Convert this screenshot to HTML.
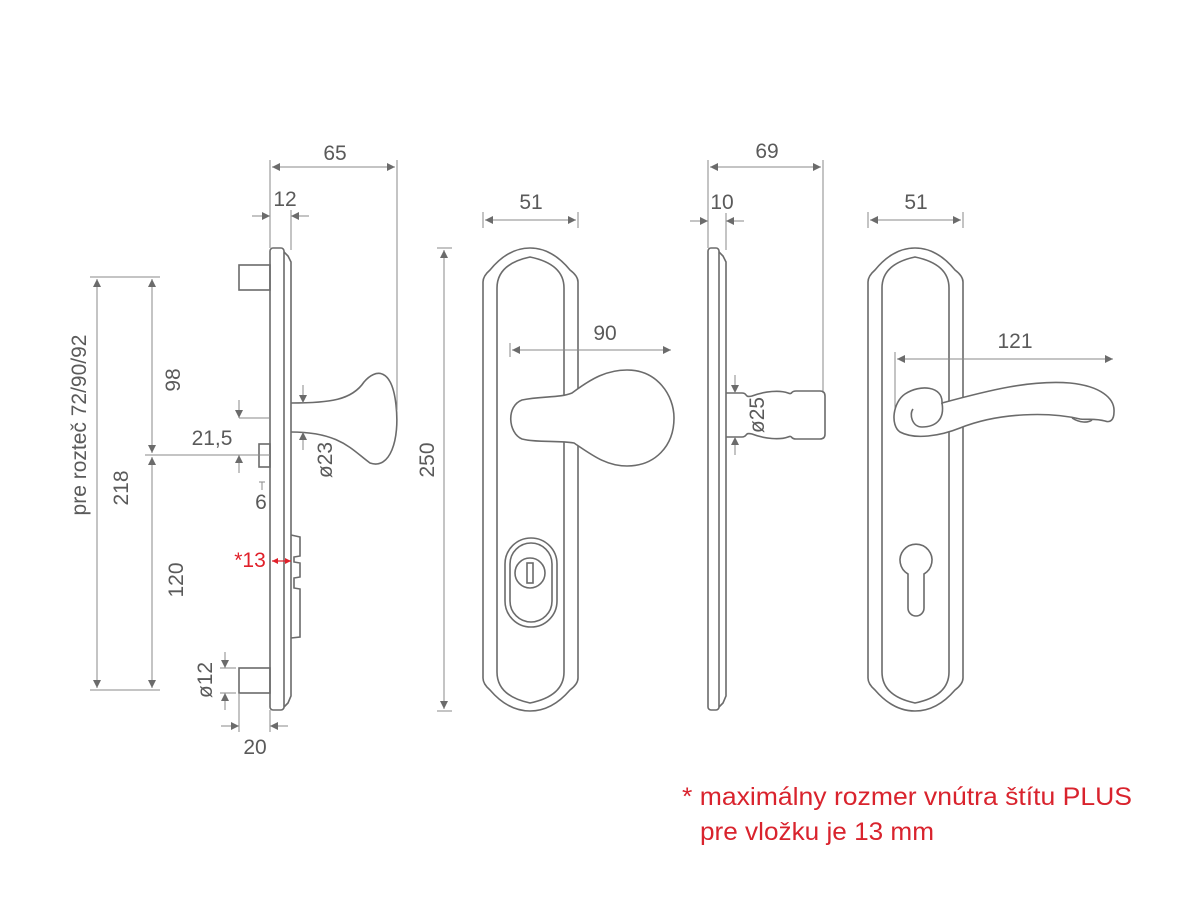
<!DOCTYPE html>
<html><head><meta charset="utf-8"><style>
html,body{margin:0;padding:0;background:#fff;}
svg{display:block;font-family:"Liberation Sans",sans-serif;}
.o{fill:none;stroke:#6b6b6b;stroke-width:1.6;}
.d{fill:none;stroke:#8a8a8a;stroke-width:1;}
.t{fill:#5a5a5a;font-size:21px;}
</style></head><body>
<svg width="1200" height="900" viewBox="0 0 1200 900" xmlns="http://www.w3.org/2000/svg">
<defs>
<marker id="ar" viewBox="0 0 10 10" refX="10" refY="5" markerWidth="16" markerHeight="8" markerUnits="userSpaceOnUse" orient="auto-start-reverse"><path d="M0,0 L10,5 L0,10 Z" fill="#6b6b6b"/></marker>
<marker id="rr" viewBox="0 0 10 10" refX="10" refY="5" markerWidth="8" markerHeight="6" markerUnits="userSpaceOnUse" orient="auto-start-reverse"><path d="M0,0 L10,5 L0,10 Z" fill="#e0202a"/></marker>
</defs>

<!-- LEFT PROFILE -->
<rect class="o" x="270" y="248" width="14" height="462" rx="3"/>
<path class="o" d="M284,252 L288,256 L291,262 L291,696 L288,703 L284,707"/>
<rect class="o" x="239" y="265" width="31" height="25"/>
<rect class="o" x="239" y="668" width="31" height="25"/>
<rect class="o" x="259" y="444" width="11" height="23"/>
<path class="o" d="M291,403 C330,403 352,400 364,382 C376,368 392,368 396,405 C400,440 390,470 370,463 C352,450 340,432 291,432"/>
<path class="o" d="M291,535 L300,537 L300,556 L294,557 L294,562 L300,563 L300,577 L294,578 L294,588 L300,589 L300,637 L291,638"/>

<line class="d" x1="270" y1="160" x2="270" y2="248"/>
<line class="d" x1="397" y1="160" x2="397" y2="410"/>
<line class="d" x1="272" y1="167" x2="395" y2="167" marker-start="url(#ar)" marker-end="url(#ar)"/>
<text class="t" x="335" y="160" text-anchor="middle">65</text>
<line class="d" x1="291" y1="210" x2="291" y2="250"/>
<line class="d" x1="252" y1="216" x2="270" y2="216" marker-end="url(#ar)"/>
<line class="d" x1="309" y1="216" x2="291" y2="216" marker-end="url(#ar)"/>
<text class="t" x="285" y="206" text-anchor="middle">12</text>

<line class="d" x1="90" y1="277" x2="160" y2="277"/>
<line class="d" x1="90" y1="690" x2="160" y2="690"/>
<line class="d" x1="145" y1="455" x2="270" y2="455"/>
<line class="d" x1="97" y1="279" x2="97" y2="688" marker-start="url(#ar)" marker-end="url(#ar)"/>
<line class="d" x1="152" y1="279" x2="152" y2="453" marker-start="url(#ar)" marker-end="url(#ar)"/>
<line class="d" x1="152" y1="457" x2="152" y2="688" marker-start="url(#ar)" marker-end="url(#ar)"/>
<text class="t" transform="translate(86,425) rotate(-90)" text-anchor="middle">pre rozteč 72/90/92</text>
<text class="t" transform="translate(128,488) rotate(-90)" text-anchor="middle">218</text>
<text class="t" transform="translate(180,380) rotate(-90)" text-anchor="middle">98</text>
<text class="t" transform="translate(183,580) rotate(-90)" text-anchor="middle">120</text>

<line class="d" x1="239" y1="418" x2="270" y2="418"/>
<line class="d" x1="239" y1="400" x2="239" y2="418" marker-end="url(#ar)"/>
<line class="d" x1="239" y1="473" x2="239" y2="455" marker-end="url(#ar)"/>
<text class="t" x="212" y="445" text-anchor="middle">21,5</text>
<line class="d" x1="259" y1="482" x2="265" y2="482"/><line class="d" x1="262" y1="482" x2="262" y2="490"/>
<text class="t" x="261" y="509" text-anchor="middle">6</text>
<text x="250" y="567" text-anchor="middle" fill="#e0202a" font-size="21">*13</text>
<line x1="272" y1="561" x2="291" y2="561" stroke="#e0202a" stroke-width="1.2" marker-start="url(#rr)" marker-end="url(#rr)"/>

<line class="d" x1="225" y1="652" x2="225" y2="668" marker-end="url(#ar)"/>
<line class="d" x1="225" y1="710" x2="225" y2="693" marker-end="url(#ar)"/>
<line class="d" x1="220" y1="668" x2="236" y2="668"/><line class="d" x1="220" y1="693" x2="236" y2="693"/>
<text class="t" transform="translate(212,680) rotate(-90)" text-anchor="middle">ø12</text>
<line class="d" x1="239" y1="693" x2="239" y2="732"/><line class="d" x1="270" y1="710" x2="270" y2="732"/>
<line class="d" x1="221" y1="726" x2="239" y2="726" marker-end="url(#ar)"/>
<line class="d" x1="288" y1="726" x2="270" y2="726" marker-end="url(#ar)"/>
<text class="t" x="255" y="754" text-anchor="middle">20</text>

<line class="d" x1="303" y1="385" x2="303" y2="403" marker-end="url(#ar)"/>
<line class="d" x1="303" y1="450" x2="303" y2="432" marker-end="url(#ar)"/>
<text class="t" transform="translate(332,460) rotate(-90)" text-anchor="middle">ø23</text>

<line class="d" x1="437" y1="248" x2="452" y2="248"/><line class="d" x1="437" y1="711" x2="452" y2="711"/>
<line class="d" x1="444" y1="250" x2="444" y2="709" marker-start="url(#ar)" marker-end="url(#ar)"/>
<text class="t" transform="translate(434,460) rotate(-90)" text-anchor="middle">250</text>

<!-- FRONT PLATE 1 -->
<g id="plate">
<path class="o" d="M483,282 L483,678 Q483,684 490,690 Q508,711 530,711 Q552,711 570,690 Q578,684 578,678 L578,282 Q578,276 570,270 Q552,248 530,248 Q508,248 490,270 Q483,276 483,282 Z"/>
<path class="o" d="M497,288 Q497,264 530,257 Q564,264 564,288 L564,672 Q564,696 530,703 Q497,696 497,672 Z"/>
</g>
<line class="d" x1="483" y1="212" x2="483" y2="228"/><line class="d" x1="578" y1="212" x2="578" y2="228"/>
<line class="d" x1="485" y1="220" x2="576" y2="220" marker-start="url(#ar)" marker-end="url(#ar)"/>
<text class="t" x="531" y="209" text-anchor="middle">51</text>
<line class="d" x1="510" y1="343" x2="510" y2="357"/>
<line class="d" x1="512" y1="350" x2="671" y2="350" marker-start="url(#ar)" marker-end="url(#ar)"/>
<text class="t" x="605" y="340" text-anchor="middle">90</text>
<path class="o" style="fill:#fff" d="M522,400 C542,396 560,398 572,393 C592,378 607,370 627,370 C657,370 674,395 674,418 C674,446 655,466 627,466 C606,466 592,455 574,443 C558,440 538,443 522,439 C508,433 506,406 522,400 Z"/>
<rect class="o" x="505" y="538" width="52" height="89" rx="26"/>
<rect class="o" x="510" y="543" width="42" height="79" rx="21"/>
<circle class="o" cx="530" cy="573" r="15"/>
<rect class="o" x="527" y="563" width="6" height="20"/>

<!-- MIDDLE PROFILE -->
<rect class="o" x="708" y="248" width="11" height="462" rx="3"/>
<path class="o" d="M719,252 L723,256 L726,262 L726,696 L723,703 L719,707"/>
<line class="d" x1="708" y1="213" x2="708" y2="248"/><line class="d" x1="726" y1="213" x2="726" y2="250"/>
<line class="d" x1="690" y1="221" x2="708" y2="221" marker-end="url(#ar)"/>
<line class="d" x1="744" y1="221" x2="726" y2="221" marker-end="url(#ar)"/>
<text class="t" x="722" y="209" text-anchor="middle">10</text>
<line class="d" x1="708" y1="160" x2="708" y2="213"/>
<line class="d" x1="823" y1="160" x2="823" y2="393"/>
<line class="d" x1="710" y1="167" x2="821" y2="167" marker-start="url(#ar)" marker-end="url(#ar)"/>
<text class="t" x="767" y="158" text-anchor="middle">69</text>
<path class="o" d="M726,393 L742,393 C748,393 744,398 752,396 C765,391 780,390 788,393 C793,395 790,391 796,391 L820,391 Q825,391 825,396 L825,434 Q825,439 820,439 L796,439 C790,439 793,435 788,437 C780,440 765,439 752,434 C744,432 748,437 742,437 L726,437"/>
<line class="d" x1="735" y1="375" x2="735" y2="393" marker-end="url(#ar)"/>
<line class="d" x1="735" y1="455" x2="735" y2="437" marker-end="url(#ar)"/>
<text class="t" transform="translate(764,415) rotate(-90)" text-anchor="middle">ø25</text>

<!-- FRONT PLATE 2 -->
<use href="#plate" transform="translate(385,0)"/>
<line class="d" x1="868" y1="212" x2="868" y2="228"/><line class="d" x1="963" y1="212" x2="963" y2="228"/>
<line class="d" x1="870" y1="220" x2="961" y2="220" marker-start="url(#ar)" marker-end="url(#ar)"/>
<text class="t" x="916" y="209" text-anchor="middle">51</text>
<line class="d" x1="895" y1="352" x2="895" y2="420"/>
<line class="d" x1="897" y1="359" x2="1113" y2="359" marker-start="url(#ar)" marker-end="url(#ar)"/>
<text class="t" x="1015" y="348" text-anchor="middle">121</text>
<path class="o" style="fill:#fff" d="M942,403 C990,390 1030,380 1070,383 C1100,386 1115,398 1114,412 C1114,420 1110,423 1105,421 C1095,418 1085,420 1080,419 C1050,412 1000,412 960,428 C940,436 915,440 900,432 C890,425 893,402 905,394 C920,384 943,386 942,403 Z"/>
<path class="o" d="M942,403 C945,420 935,427 922,427 C912,427 909,414 913,409"/>
<path class="o" d="M1072,418 C1080,423 1088,423 1092,420"/>
<path class="o" d="M908,574 A16,16 0 1 1 924,574 L924,608 A8,8 0 0 1 908,608 Z"/>

<text x="682" y="805" fill="#d9232d" font-size="25" textLength="450" lengthAdjust="spacingAndGlyphs">* maximálny rozmer vnútra štítu PLUS</text>
<text x="700" y="840" fill="#d9232d" font-size="25" textLength="234" lengthAdjust="spacingAndGlyphs">pre vložku je 13 mm</text>
</svg>
</body></html>
